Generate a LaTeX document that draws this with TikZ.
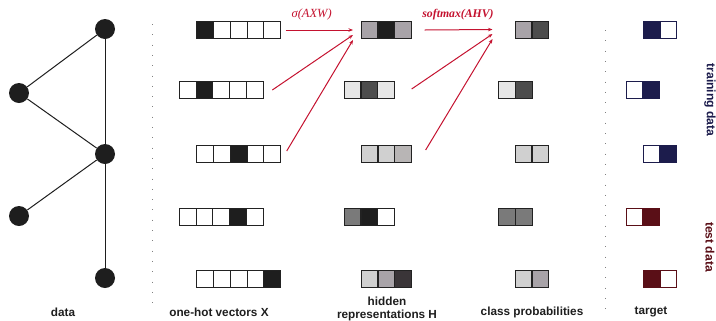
\documentclass[tikz,border=0pt]{standalone}
\usepackage{fontspec}
\setmainfont{Liberation Sans}
\newfontfamily\formulafont{Liberation Serif}
\usetikzlibrary{arrows.meta}

\definecolor{ink}{HTML}{1E1E1E}
\definecolor{cellline}{HTML}{222222}
\definecolor{gA}{HTML}{A8A3A8}
\definecolor{gB}{HTML}{4D4D4D}
\definecolor{gC}{HTML}{E6E6E6}
\definecolor{gD}{HTML}{D0D0D0}
\definecolor{gE}{HTML}{B8B5B5}
\definecolor{gF}{HTML}{7A7A7A}
\definecolor{gG}{HTML}{3A3538}
\definecolor{navy}{HTML}{1C1C4C}
\definecolor{maroon}{HTML}{5A0F17}
\definecolor{flow}{HTML}{C4122F}

\tikzset{
  gnode/.style={circle, fill=ink, minimum size=20bp, inner sep=0},
  gedge/.style={draw=ink, line width=1bp},
  cell/.style={draw=cellline, line width=1.1bp, minimum size=16.8bp, inner sep=0, outer sep=0},
  sep/.style={draw=gray, line width=0.7bp, dash pattern=on 0.7bp off 9.6bp},
  flowarrow/.style={draw=flow, line width=1bp, -{Stealth[length=4.5bp,width=3.5bp]}},
  caption/.style={font=\bfseries\fontsize{11.8}{13}\selectfont, text=ink, inner sep=0},
  sidecap/.style={font=\bfseries\fontsize{12.2}{13}\selectfont, rotate=-90, inner sep=0},
  formula/.style={font=\formulafont\itshape\fontsize{12.5}{13}\selectfont, text=flow, inner sep=0},
}

\begin{document}
\begin{tikzpicture}[x=1bp, y=-1bp]
\useasboundingbox (0,0) rectangle (716,320);

% graph
\node[gnode] (g1) at (105,29) {};
\node[gnode] (g2) at (19,93) {};
\node[gnode] (g3) at (105,154) {};
\node[gnode] (g4) at (19,216) {};
\node[gnode] (g5) at (105,278) {};
\draw[gedge] (g1) -- (g2);
\draw[gedge] (g2) -- (g3);
\draw[gedge] (g1) -- (g3);
\draw[gedge] (g3) -- (g4);
\draw[gedge] (g3) -- (g5);

% separators
\coordinate (s1a) at (152,24);
\coordinate (s1b) at (152,305);
\coordinate (s2a) at (605,30);
\coordinate (s2b) at (605,310);
\draw[sep] (s1a) -- (s1b);
\draw[sep] (s2a) -- (s2b);

% one-hot vectors X
\foreach \c [count=\k] in {ink,white,white,white,white}
  \node[cell, fill=\c] (x1-\k) at (196.7+\k*16.8-8.4,30) {};
\foreach \c [count=\k] in {white,ink,white,white,white}
  \node[cell, fill=\c] (x2-\k) at (179.3+\k*16.8-8.4,90) {};
\foreach \c [count=\k] in {white,white,ink,white,white}
  \node[cell, fill=\c] (x3-\k) at (196.7+\k*16.8-8.4,154) {};
\foreach \c [count=\k] in {white,white,white,ink,white}
  \node[cell, fill=\c] (x4-\k) at (179.3+\k*16.8-8.4,216.7) {};
\foreach \c [count=\k] in {white,white,white,white,ink}
  \node[cell, fill=\c] (x5-\k) at (196.7+\k*16.8-8.4,278.7) {};

% hidden representations H
\foreach \c [count=\k] in {gA,ink,gA}
  \node[cell, fill=\c] (h1-\k) at (361+\k*16.9-8.45,30) {};
\foreach \c [count=\k] in {gC,gB,gC}
  \node[cell, fill=\c] (h2-\k) at (344+\k*16.9-8.45,90) {};
\foreach \c [count=\k] in {gD,gD,gE}
  \node[cell, fill=\c] (h3-\k) at (361+\k*16.9-8.45,154) {};
\foreach \c [count=\k] in {gF,ink,white}
  \node[cell, fill=\c] (h4-\k) at (344+\k*16.9-8.45,216.7) {};
\foreach \c [count=\k] in {gD,gA,gG}
  \node[cell, fill=\c] (h5-\k) at (361+\k*16.9-8.45,278.7) {};

% class probabilities
\foreach \c [count=\k] in {gA,gB}
  \node[cell, fill=\c] (p1-\k) at (515+\k*17-8.5,30) {};
\foreach \c [count=\k] in {gC,gB}
  \node[cell, fill=\c] (p2-\k) at (498.3+\k*17-8.5,90) {};
\foreach \c [count=\k] in {gD,gD}
  \node[cell, fill=\c] (p3-\k) at (515+\k*17-8.5,154) {};
\foreach \c [count=\k] in {gF,gF}
  \node[cell, fill=\c] (p4-\k) at (498.3+\k*17-8.5,216.7) {};
\foreach \c [count=\k] in {gD,gA}
  \node[cell, fill=\c] (p5-\k) at (515+\k*17-8.5,278.7) {};

% targets
\foreach \c [count=\k] in {navy,white}
  \node[cell, draw=navy, fill=\c] (t1-\k) at (643.3+\k*16.7-8.35,30) {};
\foreach \c [count=\k] in {white,navy}
  \node[cell, draw=navy, fill=\c] (t2-\k) at (626.3+\k*16.7-8.35,90) {};
\foreach \c [count=\k] in {white,navy}
  \node[cell, draw=navy, fill=\c] (t3-\k) at (643.3+\k*16.7-8.35,154) {};
\foreach \c [count=\k] in {white,maroon}
  \node[cell, draw=maroon, fill=\c] (t4-\k) at (626.3+\k*16.7-8.35,216.7) {};
\foreach \c [count=\k] in {maroon,white}
  \node[cell, draw=maroon, fill=\c] (t5-\k) at (643.3+\k*16.7-8.35,278.7) {};

% message passing arrows
\coordinate (ha) at (353,30);
\coordinate (hb) at (353,35);
\coordinate (hc) at (353,40);
\coordinate (pa) at (492.5,29.5);
\coordinate (pb) at (492.5,34);
\coordinate (pc) at (492.5,39);
\draw[flowarrow] ([xshift=5bp]x1-5.east) -- (ha);
\draw[flowarrow] ([xshift=9bp]x2-5.east) -- (hb);
\draw[flowarrow] ([xshift=6bp,yshift=3bp]x3-5.east) -- (hc);
\draw[flowarrow] ([xshift=13bp]h1-3.east) -- (pa);
\draw[flowarrow] ([xshift=17bp,yshift=1bp]h2-3.east) -- (pb);
\draw[flowarrow] ([xshift=14bp,yshift=4bp]h3-3.east) -- (pc);

\node[formula] (fa) at (311.7,15) {σ(AXW)};
\node[formula, font=\formulafont\bfseries\itshape\fontsize{11.8}{13}\selectfont] (fb) at (458,15) {softmax(AHV)};

% captions
\node[caption] (c1) at (63,312) {data};
\node[caption] (c2) at (219,312) {one-hot vectors X};
\node[caption, align=center] (c3) at (387,308.5) {hidden\\representations H};
\node[caption] (c4) at (532,312) {class probabilities};
\node[caption] (c5) at (651,312) {target};
\node[sidecap, text=navy] (c6) at (710,100) {training data};
\node[sidecap, text=maroon] (c7) at (710,247) {test data};
\end{tikzpicture}
\end{document}
